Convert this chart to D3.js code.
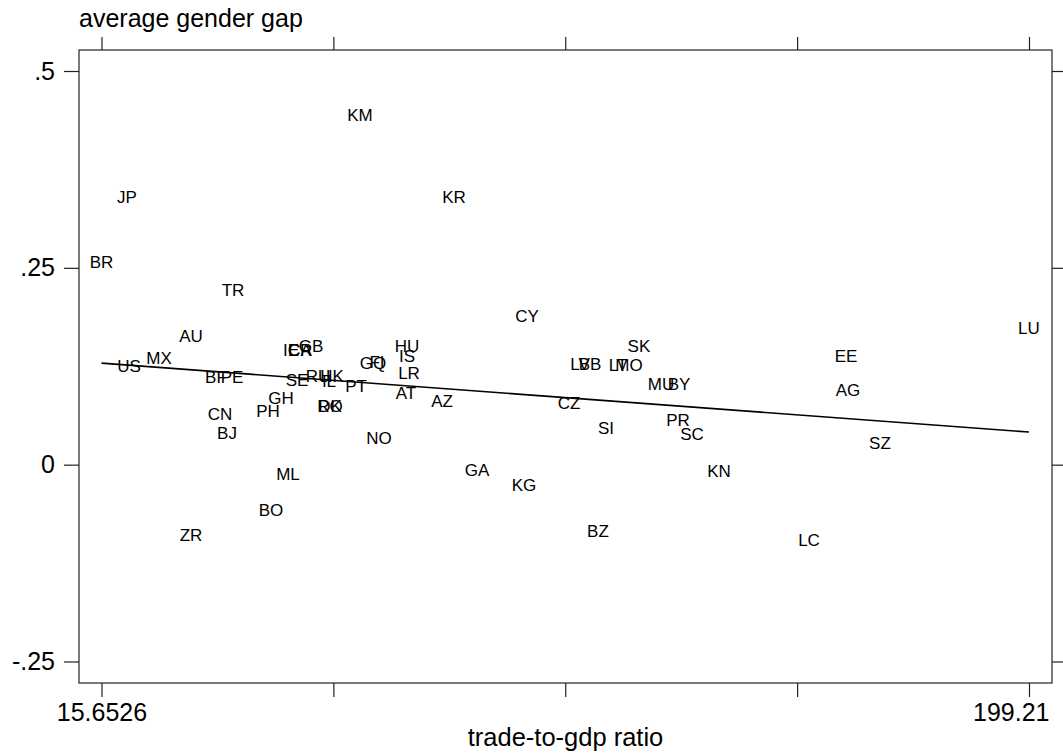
<!DOCTYPE html>
<html>
<head>
<meta charset="utf-8">
<script src="https://cdn.jsdelivr.net/npm/d3@7"></script>
<style>
  html, body { margin: 0; padding: 0; background: #ffffff; }
  svg { display: block; font-family: "Liberation Sans", Arial, sans-serif; }
</style>
</head>
<body>
<svg id="chart" width="1063" height="756"></svg>
<script>
// ---- data ----
const countries = ["KM","JP","KR","BR","TR","LU","CY","AU","HU","GB","SK","IE","CA","CR","EE","IS","MX","GQ","FI","US","LV","BB","LT","MO","LR","BF","PE","SE","RU","HK","IL","PT","MU","BY","AG","AT","GH","AZ","CZ","RO","DK","PH","CN","PR","SI","BJ","SC","NO","SZ","GA","KN","ML","KG","BO","BZ","ZR","LC"];
const tradeRatio = [66.81,20.70,85.41,15.65,41.68,199.2,99.86,33.36,76.11,57.11,122.02,53.15,54.94,54.94,162.99,76.11,27.03,69.38,70.17,21.09,110.35,112.33,117.87,120.04,76.51,38.31,41.48,54.34,58.50,61.27,60.67,66.02,126.38,129.94,163.38,75.91,51.17,83.04,108.17,60.87,60.87,48.60,39.10,129.74,115.49,40.49,132.51,70.57,169.72,89.96,137.85,52.56,99.26,49.19,113.91,33.36,155.67];
const genderGap = [0.4449,0.3395,0.3395,0.2570,0.2214,0.1731,0.1884,0.1630,0.1515,0.1515,0.1515,0.1464,0.1464,0.1464,0.1388,0.1376,0.1350,0.1299,0.1305,0.1249,0.1274,0.1274,0.1270,0.1265,0.1172,0.1109,0.1109,0.1083,0.1134,0.1134,0.1058,0.1007,0.1020,0.1020,0.0944,0.0906,0.0842,0.0804,0.0779,0.0753,0.0753,0.0677,0.0639,0.0575,0.0461,0.0398,0.0385,0.0334,0.0283,-0.0060,-0.0085,-0.0111,-0.0263,-0.0580,-0.0847,-0.0898,-0.0949];
const fitX = [15.6526, 199.21];
const fitY = [0.1290, 0.0414];
const xTickValues = [15.6526, 61.5418, 107.4311, 153.3203, 199.21];
const xTickLabels = ["15.6526", "", "", "", "199.21"];
const yTickValues = [0.5, 0.25, 0, -0.25];
const yTickLabels = [".5", ".25", "0", "-.25"];
const xTitle = "trade-to-gdp ratio";
const yTitle = "average gender gap";

// ---- layout ----
const frame = { left: 79, top: 50, right: 1052, bottom: 683 };
const svg = d3.select("#chart");

const x = d3.scaleLinear().domain([15.6526, 199.21]).range([101.5, 1029]);
const y = d3.scaleLinear().domain([-0.25, 0.5]).range([661.5, 71]);

// frame
svg.append("rect")
  .attr("x", frame.left).attr("y", frame.top)
  .attr("width", frame.right - frame.left).attr("height", frame.bottom - frame.top)
  .attr("fill", "none").attr("stroke", "#222").attr("stroke-width", 1.2);

// bottom axis
const xAxisBottom = d3.axisBottom(x).tickValues(xTickValues)
  .tickFormat((d, i) => xTickLabels[i]).tickSize(14).tickPadding(6);
const gxb = svg.append("g").attr("transform", `translate(0,${frame.bottom})`).call(xAxisBottom);
gxb.select(".domain").remove();
gxb.selectAll("line").attr("stroke", "#222").attr("stroke-width", 1.2);
gxb.selectAll("text").attr("font-size", 25).attr("fill", "#000")
  .attr("font-family", "Liberation Sans, Arial, sans-serif");
// keep the last label inside the picture, as the reference does
const lastX = x(xTickValues[xTickValues.length - 1]);
gxb.selectAll(".tick").filter((d, i) => i === xTickValues.length - 1)
  .select("text").attr("text-anchor", "end").attr("x", (frame.right - 3) - lastX);

// top axis (ticks only)
const xAxisTop = d3.axisTop(x).tickValues(xTickValues).tickFormat("").tickSize(13);
const gxt = svg.append("g").attr("transform", `translate(0,${frame.top})`).call(xAxisTop);
gxt.select(".domain").remove();
gxt.selectAll("line").attr("stroke", "#222").attr("stroke-width", 1.2);

// left axis
const yAxisLeft = d3.axisLeft(y).tickValues(yTickValues)
  .tickFormat((d, i) => yTickLabels[i]).tickSize(15).tickPadding(9);
const gyl = svg.append("g").attr("transform", `translate(${frame.left},0)`).call(yAxisLeft);
gyl.select(".domain").remove();
gyl.selectAll("line").attr("stroke", "#222").attr("stroke-width", 1.2);
gyl.selectAll("text").attr("font-size", 25).attr("fill", "#000")
  .attr("font-family", "Liberation Sans, Arial, sans-serif");

// right axis (ticks only)
const yAxisRight = d3.axisRight(y).tickValues(yTickValues).tickFormat("").tickSize(15);
const gyr = svg.append("g").attr("transform", `translate(${frame.right},0)`).call(yAxisRight);
gyr.select(".domain").remove();
gyr.selectAll("line").attr("stroke", "#222").attr("stroke-width", 1.2);

// titles
svg.append("text").attr("x", frame.left).attr("y", 27)
  .attr("font-size", 25).attr("fill", "#000").text(yTitle);
svg.append("text").attr("x", (frame.left + frame.right) / 2).attr("y", 746)
  .attr("text-anchor", "middle").attr("font-size", 25.5).attr("fill", "#000").text(xTitle);

// fitted line
const fitData = fitX.map((v, i) => [v, fitY[i]]);
svg.append("path").datum(fitData)
  .attr("d", d3.line().x(d => x(d[0])).y(d => y(d[1])))
  .attr("fill", "none").attr("stroke", "#000").attr("stroke-width", 1.6);

// country labels
const points = countries.map((c, i) => ({ c, tx: tradeRatio[i], gg: genderGap[i] }));
svg.append("g").selectAll("text").data(points).join("text")
  .attr("x", d => x(d.tx)).attr("y", d => y(d.gg))
  .attr("dy", "0.36em").attr("text-anchor", "middle")
  .attr("font-size", 17).attr("fill", "#000")
  .text(d => d.c);
</script>
</body>
</html>
